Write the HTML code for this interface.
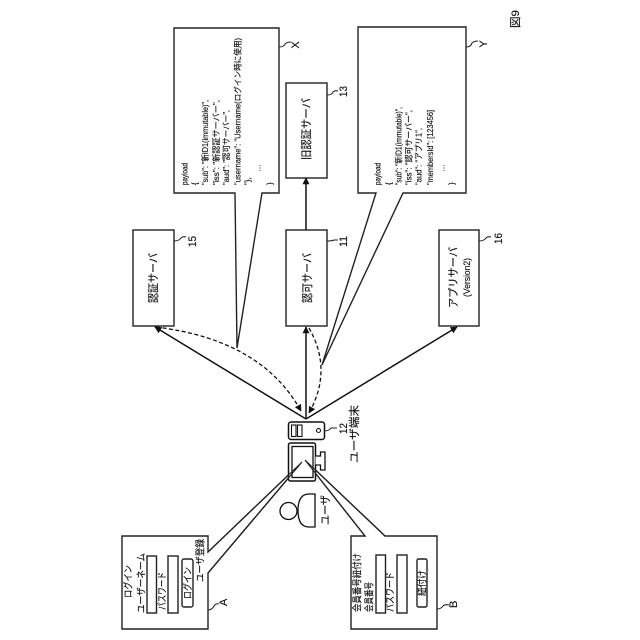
<!DOCTYPE html>
<html><head><meta charset="utf-8">
<style>
html,body{margin:0;padding:0;background:#fff}
svg{display:block}
text{font-family:"Liberation Sans","Noto Sans CJK JP",sans-serif;fill:#111;stroke:#111;stroke-width:.15}
.b{fill:#fff;stroke:#222;stroke-width:1.4}
.l{fill:none;stroke:#222;stroke-width:1.1}
.a{fill:none;stroke:#111;stroke-width:1.5}
.d{fill:none;stroke:#111;stroke-width:1.3;stroke-dasharray:4 2.5}
</style></head><body>
<svg width="640" height="640" viewBox="0 0 640 640" xmlns="http://www.w3.org/2000/svg">
<defs>
<marker id="ar" viewBox="0 0 10 10" refX="9" refY="5" markerWidth="7" markerHeight="7" markerUnits="userSpaceOnUse" orient="auto"><path d="M0 0L10 5L0 10z" fill="#111"/></marker>
</defs>

<!-- callout X -->
<path class="b" d="M174 28H279V193H262L237 348L235 193H174z"/>
<!-- callout Y -->
<path class="b" d="M358 27H466V193H403L322 365L376 193H358z"/>
<!-- callout A -->
<path class="b" d="M122 536H208V552L302 462L208 573V629H122z"/>
<!-- callout B -->
<path class="b" d="M351 536H365L305 460L385 536H437V629H351z"/>

<!-- boxes -->
<rect class="b" x="133" y="230" width="41" height="96"/>
<rect class="b" x="286" y="230" width="41" height="96"/>
<rect class="b" x="439" y="230" width="40" height="96"/>
<rect class="b" x="286" y="83" width="41" height="95"/>

<!-- arrows -->
<path class="a" d="M306 419L155 327" marker-end="url(#ar)"/>
<path class="a" d="M306 419V327" marker-end="url(#ar)"/>
<path class="a" d="M306 419L457 327" marker-end="url(#ar)"/>
<path class="a" d="M306 230V178" marker-end="url(#ar)"/>
<path class="d" d="M156 327Q262 340 301 411" marker-end="url(#ar)"/>
<path class="d" d="M309 328Q333 370 309 413" marker-end="url(#ar)"/>

<!-- terminal -->
<rect x="288.500" y="422" width="36" height="17.500" rx="2.500" fill="#fff" stroke="#111" stroke-width="1.500"/>
<rect x="291.500" y="425" width="4.500" height="11.500" fill="#fff" stroke="#111" stroke-width="1.100"/>
<rect x="297.500" y="425" width="4.500" height="11.500" fill="#fff" stroke="#111" stroke-width="1.100"/>
<circle cx="318.500" cy="430.500" r="2" fill="#fff" stroke="#111" stroke-width="1.100"/>
<rect x="288.500" y="443" width="27" height="38" rx="2" fill="#fff" stroke="#111" stroke-width="1.500"/>
<rect x="292" y="446.500" width="21" height="31" fill="none" stroke="#111" stroke-width="1.300"/>
<path d="M315.500 456H320.500V452H325V470H320.500V465H315.500" fill="#fff" stroke="#111" stroke-width="1.300"/>
<!-- tails over terminal -->
<path class="l" d="M208 552L302 462L208 573"/>
<path class="l" d="M365 536L305 460L385 536"/>

<!-- user -->
<circle cx="288.500" cy="511" r="8.500" fill="#fff" stroke="#111" stroke-width="1.300"/>
<path d="M315 494V527H309Q298 527 298 510.500Q298 494 309 494z" fill="#fff" stroke="#111" stroke-width="1.300"/>

<!-- leader squiggles -->
<path class="l" d="M174 241Q179 241 181 238Q183 236 186 237"/>
<path class="l" d="M327 241Q332 241 334 240H338"/>
<path class="l" d="M479 241Q484 241 486 238Q488 236 491 237"/>
<path class="l" d="M327 95Q332 95 333 92Q335 90 338 91"/>
<path class="l" d="M279 47Q284 47 285 44Q287 42 291 42"/>
<path class="l" d="M466 47Q471 47 472 43Q474 41 478 41"/>
<path class="l" d="M324 431Q329 431 331 428H337"/>
<path class="l" d="M208 610Q212 610 214 606Q216 603 219 604"/>
<path class="l" d="M437 609Q441 609 443 606Q445 604 449 605"/>

<!-- inner form A -->
<rect class="b" x="147" y="556" width="9.500" height="57"/>
<rect class="b" x="168" y="556" width="10" height="57"/>
<rect class="b" x="182" y="559" width="11" height="48" rx="2"/>
<!-- inner form B -->
<rect class="b" x="376" y="555" width="9.500" height="58"/>
<rect class="b" x="397" y="555" width="10" height="58"/>
<rect class="b" x="417" y="559" width="10" height="48" rx="1.500"/>

<!-- rotated labels -->
<g font-size="11">
<text transform="translate(157,303) rotate(-90)" textLength="50" lengthAdjust="spacingAndGlyphs">認証サーバ</text>
<text transform="translate(311,303) rotate(-90)" textLength="50" lengthAdjust="spacingAndGlyphs">認可サーバ</text>
<text transform="translate(310,160) rotate(-90)" textLength="62" lengthAdjust="spacingAndGlyphs">旧認証サーバ</text>
<text transform="translate(457,308) rotate(-90)" textLength="61" lengthAdjust="spacingAndGlyphs">アプリサーバ</text>
<text transform="translate(470,297) rotate(-90)" font-size="9.500" textLength="39" lengthAdjust="spacingAndGlyphs">(Version2)</text>
<text transform="translate(196,247) rotate(-90)" textLength="11" lengthAdjust="spacingAndGlyphs">15</text>
<text transform="translate(347,247) rotate(-90)" textLength="11" lengthAdjust="spacingAndGlyphs">11</text>
<text transform="translate(502,244) rotate(-90)" textLength="11" lengthAdjust="spacingAndGlyphs">16</text>
<text transform="translate(347,97) rotate(-90)" textLength="11" lengthAdjust="spacingAndGlyphs">13</text>
<text transform="translate(347,434) rotate(-90)" textLength="11" lengthAdjust="spacingAndGlyphs">12</text>
<text transform="translate(358,463) rotate(-90)" textLength="58" lengthAdjust="spacingAndGlyphs">ユーザ端末</text>
<text transform="translate(329,525) rotate(-90)" textLength="30" lengthAdjust="spacingAndGlyphs">ユーザ</text>
<text transform="translate(299,45) rotate(-90)" text-anchor="middle">X</text>
<text transform="translate(487,44) rotate(-90)" text-anchor="middle">Y</text>
<text transform="translate(227,606) rotate(-90)">A</text>
<text transform="translate(457,608) rotate(-90)">B</text>
<text transform="translate(519,28) rotate(-90)" textLength="18" lengthAdjust="spacingAndGlyphs">図9</text>
</g>

<!-- form A text -->
<g font-size="9.500">
<text transform="translate(131.500,598) rotate(-90)" textLength="33" lengthAdjust="spacingAndGlyphs">ログイン</text>
<text transform="translate(144.500,613) rotate(-90)" textLength="60" lengthAdjust="spacingAndGlyphs">ユーザーネーム</text>
<text transform="translate(165.500,610) rotate(-90)" textLength="38" lengthAdjust="spacingAndGlyphs">パスワード</text>
<text transform="translate(191,599) rotate(-90)" textLength="32" lengthAdjust="spacingAndGlyphs">ログイン</text>
<text transform="translate(203.500,582) rotate(-90)" textLength="43" lengthAdjust="spacingAndGlyphs">ユーザ登録</text>
</g>
<!-- form B text -->
<g font-size="9.500">
<text transform="translate(360.500,612) rotate(-90)" textLength="59" lengthAdjust="spacingAndGlyphs">会員番号紐付け</text>
<text transform="translate(372.500,612) rotate(-90)" textLength="30" lengthAdjust="spacingAndGlyphs">会員番号</text>
<text transform="translate(393.500,612) rotate(-90)" textLength="40" lengthAdjust="spacingAndGlyphs">パスワード</text>
<text transform="translate(425.500,596) rotate(-90)" textLength="26" lengthAdjust="spacingAndGlyphs">紐付け</text>
</g>

<!-- payload X -->
<g font-size="8">
<text transform="translate(187.500,185) rotate(-90)" textLength="22" lengthAdjust="spacingAndGlyphs">payload</text>
<text transform="translate(197.500,185) rotate(-90)">{</text>
<text transform="translate(208,185) rotate(-90)" textLength="85" lengthAdjust="spacingAndGlyphs">"sub": "新ID1(immutable)",</text>
<text transform="translate(219,185) rotate(-90)" textLength="85" lengthAdjust="spacingAndGlyphs">"iss": "新認証サーバー",</text>
<text transform="translate(229,185) rotate(-90)" textLength="75" lengthAdjust="spacingAndGlyphs">"aud": "認可サーバー",</text>
<text transform="translate(240.500,185) rotate(-90)" textLength="147" lengthAdjust="spacingAndGlyphs">"username": "Username(ログイン時に使用)</text>
<text transform="translate(250.500,185) rotate(-90)">"},</text>
<text transform="translate(260.500,172) rotate(-90)">…</text>
<text transform="translate(272.500,185) rotate(-90)">}</text>
</g>
<!-- payload Y -->
<g font-size="8">
<text transform="translate(380.500,185) rotate(-90)" textLength="22" lengthAdjust="spacingAndGlyphs">payload</text>
<text transform="translate(391.500,185) rotate(-90)">{</text>
<text transform="translate(401.500,185) rotate(-90)" textLength="78" lengthAdjust="spacingAndGlyphs">"sub": "新ID1(immutable)",</text>
<text transform="translate(411.500,185) rotate(-90)" textLength="75" lengthAdjust="spacingAndGlyphs">"iss": "認可サーバー",</text>
<text transform="translate(421.500,185) rotate(-90)" textLength="57" lengthAdjust="spacingAndGlyphs">"aud": "アプリ1",</text>
<text transform="translate(433,185) rotate(-90)" textLength="75" lengthAdjust="spacingAndGlyphs">"membersId": [123456]</text>
<text transform="translate(444.500,172) rotate(-90)">…</text>
<text transform="translate(454.500,185) rotate(-90)">}</text>
</g>
</svg>
</body></html>
